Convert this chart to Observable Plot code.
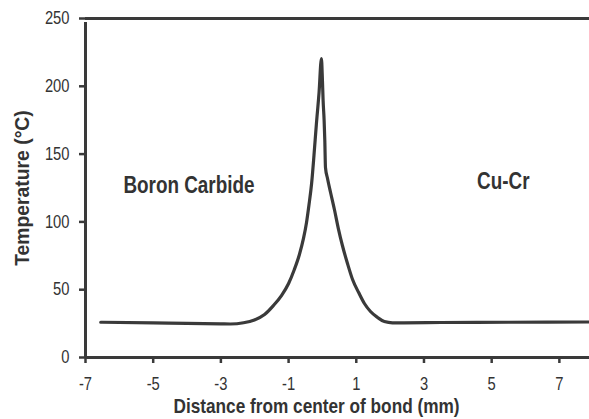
<!DOCTYPE html>
<html><head><meta charset="utf-8">
<script src="https://cdn.jsdelivr.net/npm/d3@7"></script>
<script src="https://cdn.jsdelivr.net/npm/@observablehq/plot@0.6"></script>
<style>body{margin:0;background:#fff}</style>
</head><body><div id="chart"></div>
<script>
const distance = [-6.55, -5.0, -4.0, -3.0, -2.72, -2.33, -2.01, -1.71, -1.45, -1.21, -1.00, -0.83, -0.68, -0.56, -0.47, -0.40, -0.32, -0.25, -0.18, -0.10, -0.03, 0.00, 0.02, 0.05, 0.07, 0.09, 0.15, 0.24, 0.36, 0.47, 0.59, 0.74, 0.89, 1.07, 1.24, 1.42, 1.63, 1.83, 2.07, 2.4, 3.5, 5.5, 7.9];
const temperature = [26.0, 25.5, 25.1, 24.8, 24.7, 25.6, 27.7, 31.7, 38.3, 45.7, 54.6, 64.9, 76.0, 87.8, 99.6, 112.1, 128.3, 149.0, 171.8, 195.4, 220.5, 204.3, 189.5, 174.8, 160.0, 140.1, 132.0, 121.7, 108.4, 95.1, 82.6, 69.3, 57.5, 47.9, 39.8, 33.9, 29.5, 26.5, 25.6, 25.6, 25.8, 26.0, 26.2];
const xTicks = [-7, -5, -3, -1, 1, 3, 5, 7];
const yTicks = [0, 50, 100, 150, 200, 250];
const regionNames = ["Boron Carbide", "Cu-Cr"];
const regionX = [-5.88, 4.57];
const regionY = [127, 130];
const xTitle = "Distance from center of bond (mm)";
const yTitle = "Temperature (°C)";

const ink = "#3a3a3a";
const font = "'Liberation Sans', Arial, sans-serif";
const curve = distance.map((d, i) => ({x: d, y: temperature[i]}));
const labels = regionNames.map((t, i) => ({t, x: regionX[i], y: regionY[i]}));

const chart = Plot.plot({
  width: 589, height: 419,
  marginLeft: 85, marginRight: 0, marginTop: 18, marginBottom: 62,
  style: {fontFamily: font, fontSize: "18px", color: "#333", background: "#fff"},
  x: {domain: [-7, 7.89]},
  y: {domain: [0, 250]},
  marks: [
    Plot.axisX({ticks: xTicks, tickSize: 6, tickPadding: 14, tickFormat: d => String(d), label: null, stroke: ink, strokeWidth: 2.5, fill: "#333"}),
    Plot.axisY({ticks: yTicks, tickSize: 6, tickPadding: 10, tickFormat: d => String(d), label: null, stroke: ink, strokeWidth: 2.5, fill: "#333"}),
    Plot.ruleY([0], {stroke: ink, strokeWidth: 3}),
    Plot.ruleY([250], {stroke: ink, strokeWidth: 3}),
    Plot.ruleX([-7], {y1: 0, y2: 250, stroke: ink, strokeWidth: 3, insetBottom: -4}),
    Plot.line(curve, {x: "x", y: "y", curve: "monotone-x", stroke: ink, strokeWidth: 3.2, strokeLinecap: "round", strokeLinejoin: "round"}),
    Plot.text(labels, {x: "x", y: "y", text: "t", textAnchor: "start", lineAnchor: "middle", fontSize: 23, fontWeight: "bold", fill: "#333"}),
    Plot.text([xTitle], {frameAnchor: "bottom", text: d => d, dx: -21, dy: 41, lineAnchor: "top", fontSize: 21, fontWeight: "bold", fill: "#333"}),
    Plot.text([yTitle], {frameAnchor: "left", text: d => d, dx: -63.5, rotate: -90, lineAnchor: "middle", textAnchor: "middle", fontSize: 21, fontWeight: "bold", fill: "#333"})
  ]
});
document.getElementById("chart").append(chart);
// condensed look: squeeze glyphs horizontally (no condensed face installed)
chart.querySelectorAll("text").forEach(el => {
  const f = el.textContent === yTitle ? 0.92 : 0.82;
  const len = el.getComputedTextLength();
  el.setAttribute("textLength", (len * f).toFixed(1));
  el.setAttribute("lengthAdjust", "spacingAndGlyphs");
});
</script>
</body></html>
